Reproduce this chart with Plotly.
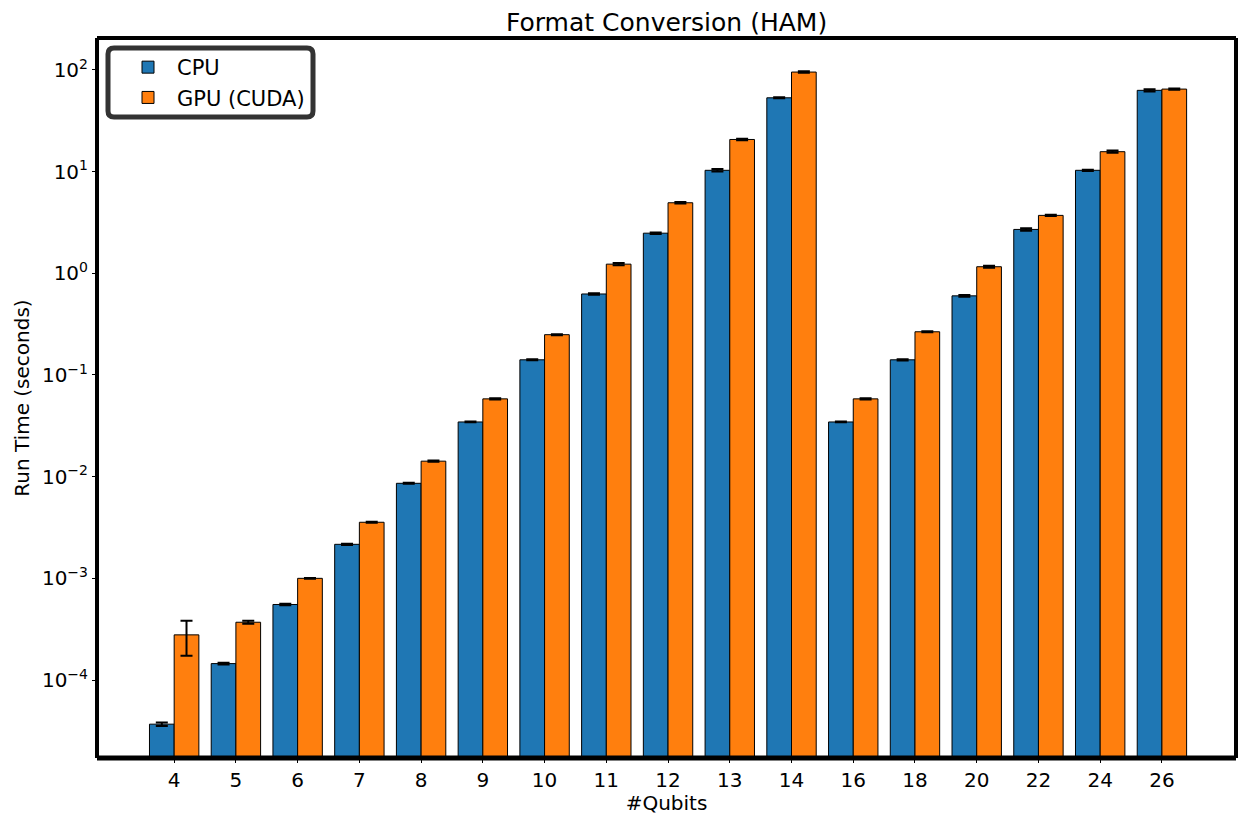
import plotly.graph_objects as go

qubits = ["4", "5", "6", "7", "8", "9", "10", "11", "12", "13", "14", "16", "18", "20", "22", "24", "26"]
cpu_time = [3.68e-5, 1.45e-4, 5.53e-4, 2.16e-3, 8.6e-3, 0.0345, 0.141, 0.626, 2.48, 10.3, 53.2,
            0.0345, 0.141, 0.60, 2.70, 10.3, 63.0]
gpu_time = [2.78e-4, 3.70e-4, 1.0e-3, 3.56e-3, 0.0142, 0.0582, 0.249, 1.23, 4.94, 20.7, 95.3,
            0.0582, 0.266, 1.16, 3.71, 15.7, 64.8]
cpu_err = [1.5e-6, 3e-6, 1e-5, 3e-5, 1e-4, 3e-4, 1.5e-3, 1e-2, 4e-2, 0.3, 0.6,
           3e-4, 2e-3, 1.2e-2, 0.08, 0.15, 1.5]
gpu_err = [1.05e-4, 1.2e-5, 1e-5, 4e-5, 2e-4, 8e-4, 3e-3, 3e-2, 8e-2, 0.4, 1.5,
           8e-4, 3e-3, 2.5e-2, 0.06, 0.4, 0.8]
ytick_vals = [1e-4, 1e-3, 1e-2, 1e-1, 1e0, 1e1, 1e2]
ytick_text = ["10<sup>−4</sup>", "10<sup>−3</sup>", "10<sup>−2</sup>", "10<sup>−1</sup>",
              "10<sup>0</sup>", "10<sup>1</sup>", "10<sup>2</sup>"]

pos = list(range(len(qubits)))
font = "DejaVu Sans, Arial, sans-serif"

W, H = 1239, 815
ML, MR, MT, MB = 97, 3, 38, 57
PW, PH = W - ML - MR, H - MT - MB


def px(x):
    return (x - ML) / PW


def py(y):
    return (H - MB - y) / PH


# rounded legend frame (pixel box 108..313 x 48..117)
x0, x1, y0, y1 = px(108), px(313), py(117), py(48)
rx, ry = 6 / PW, 6 / PH
frame_path = (f"M {x0+rx},{y0} L {x1-rx},{y0} Q {x1},{y0} {x1},{y0+ry} "
              f"L {x1},{y1-ry} Q {x1},{y1} {x1-rx},{y1} L {x0+rx},{y1} "
              f"Q {x0},{y1} {x0},{y1-ry} L {x0},{y0+ry} Q {x0},{y0} {x0+rx},{y0} Z")

fig = go.Figure()
fig.add_trace(go.Bar(
    x=[p - 0.2 for p in pos], y=cpu_time, width=0.4, name="CPU",
    marker=dict(color="#1f77b4", line=dict(color="black", width=1)),
    error_y=dict(type="data", array=cpu_err, color="black", thickness=2, width=6),
))
fig.add_trace(go.Bar(
    x=[p + 0.2 for p in pos], y=gpu_time, width=0.4, name="GPU (CUDA)",
    marker=dict(color="#ff7f0e", line=dict(color="black", width=1)),
    error_y=dict(type="data", array=gpu_err, color="black", thickness=2, width=6),
))

fig.update_layout(
    width=W, height=H,
    margin=dict(l=ML, r=MR, t=MT, b=MB, autoexpand=False),
    paper_bgcolor="white", plot_bgcolor="white",
    font=dict(family=font, size=20, color="black"),
    title=dict(text="Format Conversion (HAM)", x=0.538, xanchor="center", y=0.973, yanchor="middle",
               font=dict(size=25, family=font)),
    barmode="overlay",
    showlegend=True,
    legend=dict(x=px(119), y=py(47), xanchor="left", yanchor="top",
                bgcolor="rgba(0,0,0,0)", borderwidth=0, itemwidth=48,
                font=dict(size=21, family=font), tracegroupgap=0),
    xaxis=dict(
        range=[-1.25, 17.2], tickvals=pos, ticktext=qubits, automargin=False,
        showgrid=False, zeroline=False, ticks="outside", ticklen=4, tickwidth=1,
        tickcolor="black", tickfont=dict(size=20),
        title=dict(text="#Qubits", font=dict(size=20), standoff=2),
    ),
    yaxis=dict(
        type="log", range=[-4.767, 2.314], tickvals=ytick_vals, ticktext=ytick_text,
        automargin=False,
        showgrid=False, zeroline=False, ticks="outside", ticklen=4, tickwidth=1,
        tickcolor="black", tickfont=dict(size=20),
        title=dict(text="Run Time (seconds)", font=dict(size=20), standoff=6),
    ),
    shapes=[
        dict(type="path", xref="paper", yref="paper", path=frame_path, layer="above",
             fillcolor="white", line=dict(color="#333333", width=5)),
        dict(type="line", xref="paper", yref="paper", x0=0, x1=1, y0=0, y1=0,
             line=dict(color="black", width=5)),
        dict(type="line", xref="paper", yref="paper", x0=0, x1=1, y0=1, y1=1,
             line=dict(color="black", width=4)),
        dict(type="line", xref="paper", yref="paper", x0=0, x1=0, y0=0, y1=1,
             line=dict(color="black", width=4)),
        dict(type="line", xref="paper", yref="paper", x0=1, x1=1, y0=0, y1=1,
             line=dict(color="black", width=4)),
    ],
)

fig.write_html("out.html", config={"displayModeBar": False},
               post_script="document.body.style.margin='0px';document.body.style.overflow='hidden';")
